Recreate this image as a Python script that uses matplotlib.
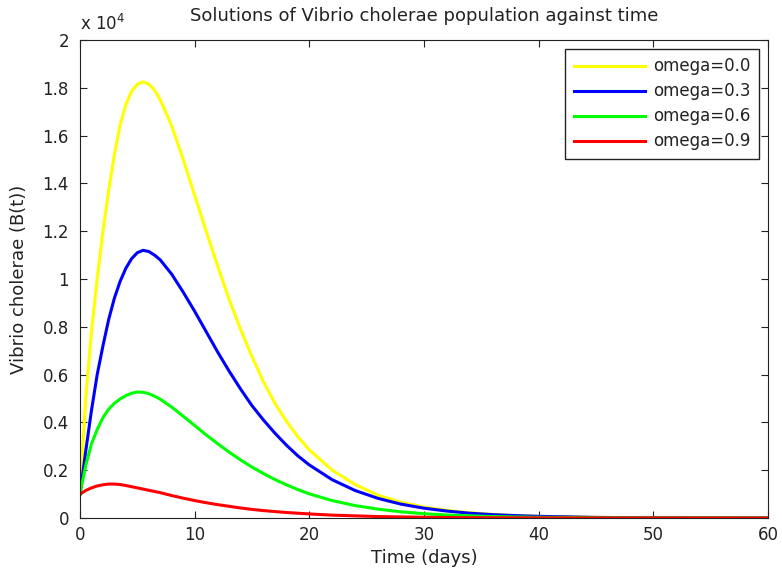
import matplotlib.pyplot as plt
import numpy as np
from matplotlib.ticker import FuncFormatter

plt.rcParams['font.family'] = ['DejaVu Sans']

# Time points (days)
t = [0, 0.5, 1, 1.5, 2, 2.5, 3, 3.5, 4, 4.5, 5, 5.5, 6, 6.5, 7, 8, 9, 10, 11, 12,
     13, 14, 15, 16, 17, 18, 19, 20, 22, 24, 26, 28, 30, 32, 34, 36, 38, 40,
     45, 50, 55, 60]

# Vibrio cholerae population B(t) for each omega
b_omega00 = [1000, 5000, 7800, 10000, 12000, 13700, 15200, 16450, 17300, 17850,
             18150, 18250, 18150, 17900, 17500, 16400, 15000, 13500, 12000, 10550,
             9150, 7900, 6750, 5700, 4800, 4050, 3400, 2850, 2000, 1400, 950, 660,
             460, 320, 220, 150, 100, 70, 25, 10, 4, 2]
b_omega03 = [1000, 2800, 4500, 6000, 7200, 8300, 9200, 9900, 10450, 10850,
             11100, 11200, 11150, 11000, 10800, 10200, 9450, 8650, 7800, 6950,
             6150, 5400, 4700, 4100, 3550, 3050, 2600, 2220, 1600, 1150, 820, 580,
             410, 290, 200, 140, 100, 70, 25, 8, 3, 1]
b_omega06 = [1000, 2200, 3100, 3700, 4200, 4550, 4800, 4980, 5120, 5220,
             5270, 5260, 5200, 5100, 4970, 4640, 4260, 3870, 3480, 3110,
             2760, 2430, 2130, 1860, 1610, 1390, 1190, 1010, 730, 520, 370, 260,
             180, 125, 90, 62, 43, 30, 12, 4, 2, 1]
b_omega09 = [1000, 1150, 1260, 1340, 1390, 1420, 1420, 1400, 1360, 1310,
             1260, 1210, 1160, 1110, 1060, 940, 830, 730, 640, 560,
             490, 420, 360, 310, 270, 230, 200, 170, 120, 90, 60, 45,
             30, 20, 14, 10, 7, 5, 2, 1, 0, 0]

series = [(b_omega00, '#ffff00', 'omega=0.0'),
          (b_omega03, '#0000ff', 'omega=0.3'),
          (b_omega06, '#00ff00', 'omega=0.6'),
          (b_omega09, '#ff0000', 'omega=0.9')]

fig = plt.figure(figsize=(7.82, 5.72), dpi=100)
ax = fig.add_axes([0.1023, 0.0944, 0.8797, 0.8357])

for vals, col, lab in series:
    ax.plot(t, np.array(vals) / 1e4, color=col, linewidth=2.2, label=lab)

ax.set_xlim(0, 60)
ax.set_ylim(0, 2)
ax.set_xticks(np.arange(0, 61, 10))
ax.set_yticks(np.arange(0, 2.01, 0.2))
ax.yaxis.set_major_formatter(FuncFormatter(lambda v, p: ('%g' % round(v, 1))))
ax.tick_params(direction='in', top=True, right=True, labelsize=12, length=5,
               color='#222222', labelcolor='#222222')
ax.tick_params(axis='x', pad=6)
ax.tick_params(axis='y', pad=8)
for s in ax.spines.values():
    s.set_color('#222222')

ax.text(0.0, 1.012, r'x 10$^4$', transform=ax.transAxes, fontsize=12,
        ha='left', va='bottom', color='#222222')

ax.set_title('Solutions of Vibrio cholerae population against time',
             fontsize=13, pad=14, color='#222222')
ax.set_xlabel('Time (days)', fontsize=13, labelpad=3, color='#222222')
ax.set_ylabel('Vibrio cholerae (B(t))', fontsize=13, labelpad=10,
              color='#222222')

leg = ax.legend(loc='upper right', fontsize=12, fancybox=False, framealpha=1,
                edgecolor='#222222', handlelength=4.3, handletextpad=0.45,
                labelspacing=0.42, borderaxespad=0.55, borderpad=0.5)
leg.get_frame().set_linewidth(1.0)
for txt in leg.get_texts():
    txt.set_color('#222222')

fig.savefig('out.png', dpi=100)
